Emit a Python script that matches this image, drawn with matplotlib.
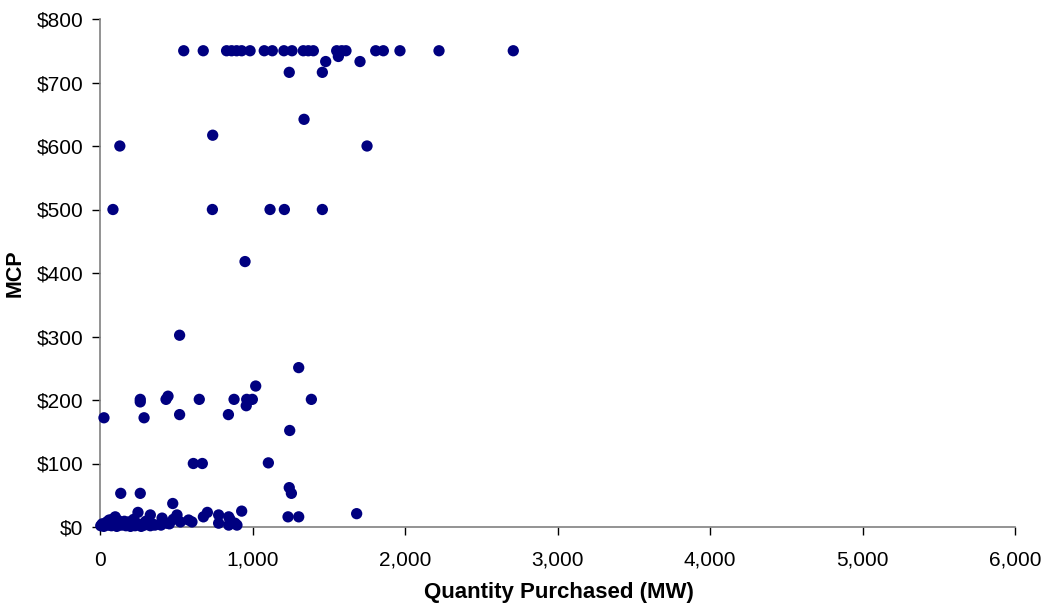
import matplotlib
matplotlib.use("Agg")
import matplotlib.pyplot as plt
from matplotlib.ticker import FuncFormatter

# quantity purchased (MW) and market clearing price ($)
qty_top = [549, 677, 830, 863, 896, 929, 984, 1077, 1130, 1206, 1259,
           1333, 1366, 1399, 1552, 1585, 1613, 1808, 1858, 1967, 2223, 2710]
mcp_top = [750] * len(qty_top)

qty_mid = [1241, 1458, 1480, 1563, 1705, 1338, 739, 130, 1751,
           85, 737, 1115, 1209, 1458, 951, 522, 1303, 1021,
           264, 264, 433, 446, 651, 879, 962, 999, 959, 1386,
           26, 289, 522, 842, 1244, 612, 671, 1104,
           1241, 1255, 136, 264, 477]
mcp_mid = [716, 716, 733, 741, 733, 642, 617, 600, 600,
           500, 500, 500, 500, 500, 418, 302, 251, 222,
           201, 197, 201, 206, 201, 201, 201, 201, 191, 201,
           172, 172, 177, 177, 152, 100, 100, 101,
           62, 53, 53, 53, 37]

qty_low = [1233, 1303, 1683, 929, 704, 678, 249, 330, 505, 581, 603, 100,
           778, 844, 778, 844, 898, 852, 885, 407, 439, 527, 400,
           5, 15, 25, 35, 45, 55, 65, 75, 85, 95, 110, 125, 140, 155,
           170, 185, 200, 215, 230, 250, 270, 290, 310, 330, 350,
           60, 80, 120, 160, 190, 220, 300, 360, 455, 480]
mcp_low = [16, 16, 21, 25, 23, 16, 23, 19, 19, 11, 8, 16,
           19, 16, 6, 3, 3, 12, 6, 14, 6, 8, 3,
           2, 5, 1, 4, 8, 3, 6, 2, 9, 4, 1, 7, 3, 5,
           2, 6, 1, 4, 2, 5, 1, 3, 6, 2, 4,
           11, 12, 10, 9, 8, 12, 9, 3, 5, 12]

qty = qty_top + qty_mid + qty_low
mcp = mcp_top + mcp_mid + mcp_low

x_ticks = [0, 1000, 2000, 3000, 4000, 5000, 6000]
y_ticks = [0, 100, 200, 300, 400, 500, 600, 700, 800]

plt.rcParams['font.family'] = ['Liberation Sans', 'DejaVu Sans']

fig = plt.figure(figsize=(10.5, 6.09), dpi=100)
ax = fig.add_axes([100 / 1050, 1 - 527 / 609, 915 / 1050, 508 / 609])

ax.scatter(qty, mcp, s=66, color='#000080', edgecolors='none',
           clip_on=False, zorder=3)

ax.set_xlim(0, 6000)
ax.set_ylim(0, 800)
ax.set_xticks(x_ticks)
ax.set_yticks(y_ticks)
ax.xaxis.set_major_formatter(FuncFormatter(lambda v, p: f"{int(v):,}"))
ax.yaxis.set_major_formatter(FuncFormatter(lambda v, p: f"${int(v)}"))

for side in ['top', 'right']:
    ax.spines[side].set_visible(False)
for side in ['left', 'bottom']:
    ax.spines[side].set_color('#808080')
    ax.spines[side].set_linewidth(1.2)

ax.tick_params(axis='both', direction='out', length=6, width=1,
               color='black', labelsize=15)
ax.tick_params(axis='x', pad=11)
ax.tick_params(axis='y', pad=6)

ax.set_xlabel('Quantity Purchased (MW)', fontsize=16, fontweight='bold')
ax.set_ylabel('MCP', fontsize=15.5, fontweight='bold')
ax.xaxis.set_label_coords(0.502, -0.108)
ax.yaxis.set_label_coords(-0.081, 0.5)

fig.savefig('out.png', dpi=100)
